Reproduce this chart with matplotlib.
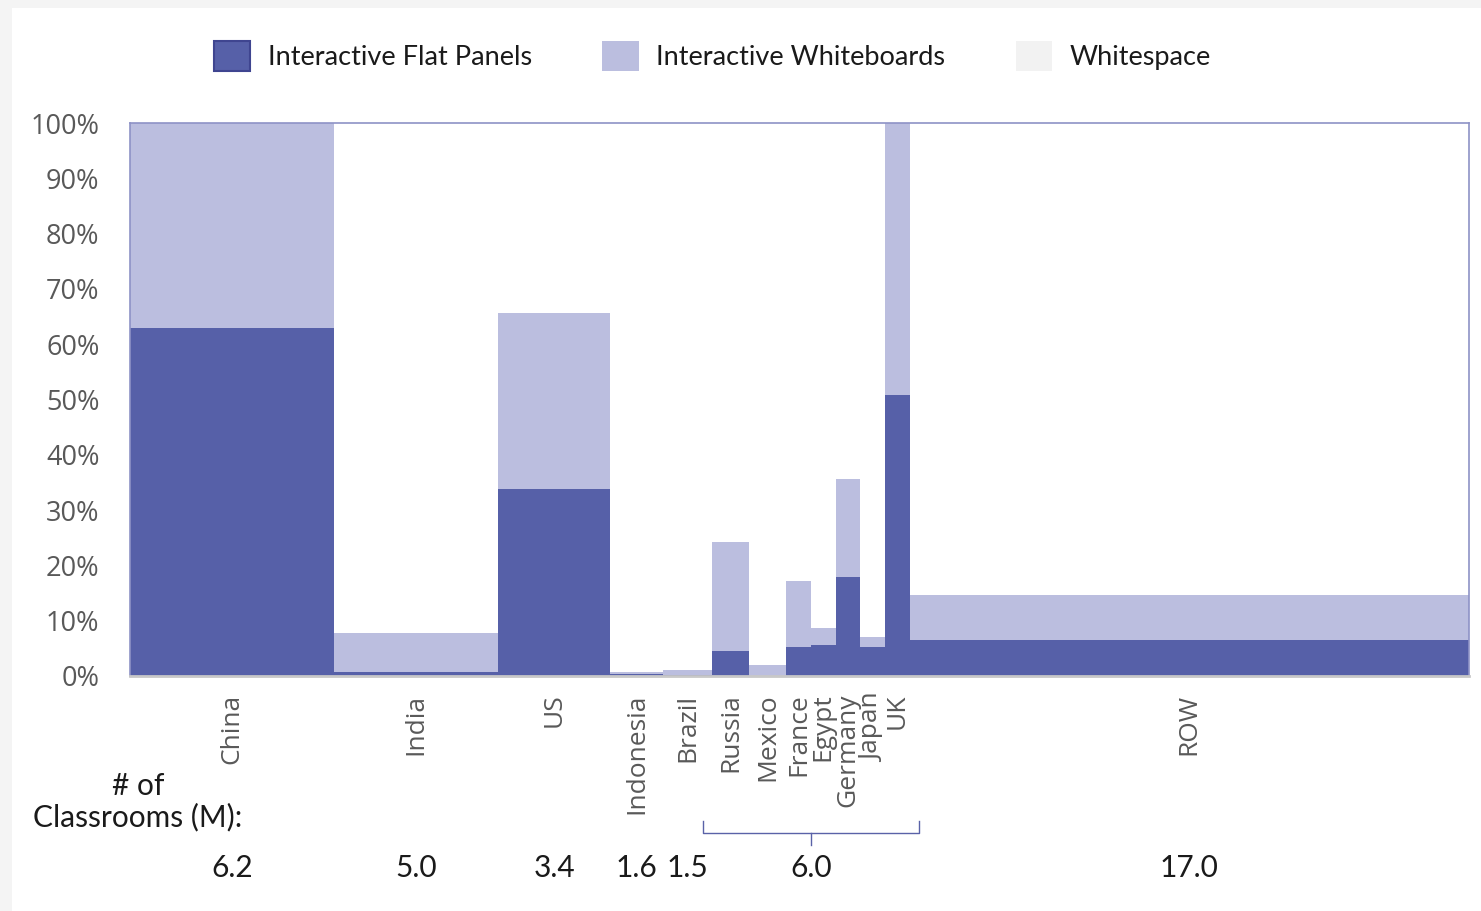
import matplotlib.pyplot as plt
import numpy as np
from matplotlib.patches import Patch, Rectangle
from matplotlib.transforms import blended_transform_factory

# classroom counts (M) per market -> bar widths
countries = ['China', 'India', 'US', 'Indonesia', 'Brazil', 'Russia', 'Mexico',
             'France', 'Egypt', 'Germany', 'Japan', 'UK', 'ROW']
classrooms = [6.2, 5.0, 3.4, 1.6, 1.5, 1.1, 1.15, 0.75, 0.75, 0.75, 0.75, 0.75, 17.0]

# penetration (% of classrooms)
flat_panels = [62.9, 0.8, 33.9, 0.3, 0.1, 4.6, 0.0, 5.2, 5.6, 17.9, 5.2, 50.9, 6.6]
whiteboards = [37.1, 6.9, 31.7, 0.5, 1.0, 19.7, 2.0, 11.9, 3.1, 17.7, 1.9, 49.1, 8.0]

# labels printed under the axis
count_labels = ['6.2', '5.0', '3.4', '1.6', '1.5', '6.0', '17.0']
count_groups = [[0], [1], [2], [3], [4], [5, 6, 7, 8, 9, 10, 11], [12]]

c_ifp = '#5660a8'
c_iwb = '#bbbedf'
c_ws = '#f2f2f2'

fig = plt.figure(figsize=(14.81, 9.11), dpi=100, facecolor='#f4f4f4')
fig.patches.append(Rectangle((12 / 1481, 0), 1, 1 - 8 / 911, transform=fig.transFigure,
                             facecolor='white', edgecolor='none', zorder=-1))

ax = fig.add_axes([130 / 1481, 1 - 676 / 911, 1339 / 1481, 553 / 911])

widths = np.array(classrooms)
lefts = np.concatenate([[0], np.cumsum(widths)[:-1]])
centers = lefts + widths / 2

ax.bar(lefts, flat_panels, widths, align='edge', color=c_ifp, edgecolor='none')
ax.bar(lefts, whiteboards, widths, bottom=flat_panels, align='edge',
       color=c_iwb, edgecolor='none')

ax.set_xlim(0, widths.sum())
ax.set_ylim(0, 100)
ax.set_yticks(np.arange(0, 101, 10))
ax.set_yticklabels([f'{v}%' for v in range(0, 101, 10)])
ax.tick_params(axis='y', length=0, pad=22, labelsize=19.5, labelcolor='#595959')
ax.set_xticks([])
for lbl in ax.get_yticklabels():
    lbl.set_fontfamily('Open Sans')

for side in ['top', 'left', 'right']:
    ax.spines[side].set_color('#8e92c6')
    ax.spines[side].set_linewidth(1.2)
ax.spines['bottom'].set_color('#c8c8c8')
ax.spines['bottom'].set_linewidth(2)

trans = blended_transform_factory(ax.transData, ax.transAxes)

# country names
for name, xc in zip(countries, centers):
    ax.text(xc, -0.032, name, transform=trans, rotation=90, ha='center', va='top',
            fontsize=19, color='#595959', family='Open Sans', linespacing=0.8)

# classroom counts
for lbl, grp in zip(count_labels, count_groups):
    x0 = lefts[grp[0]]
    x1 = lefts[grp[-1]] + widths[grp[-1]]
    ax.text((x0 + x1) / 2, -0.347, lbl, transform=trans, ha='center', va='center',
            fontsize=21.5, color='#1a1a1a', family='Lato')

# bracket over the smaller markets
g0 = lefts[5] - 0.27
g1 = lefts[11] + widths[11] + 0.27
gm = (g0 + g1) / 2
ax.plot([g0, g0, g1, g1], [-0.262, -0.284, -0.284, -0.262], transform=trans,
        color='#5a62a8', lw=1, clip_on=False)
ax.plot([gm, gm], [-0.284, -0.306], transform=trans, color='#5a62a8', lw=1,
        clip_on=False)

fig.text(138 / 1481, 1 - 802 / 911, '# of\nClassrooms (M):', ha='center', va='center',
         fontsize=21.5, family='Lato', color='#1a1a1a', linespacing=1.1)

handles = [Patch(facecolor=c_ifp, edgecolor='#3f4590', lw=1.5, label='Interactive Flat Panels'),
           Patch(facecolor=c_iwb, edgecolor='none', label='Interactive Whiteboards'),
           Patch(facecolor=c_ws, edgecolor='none', label='Whitespace')]
leg = fig.legend(handles=handles, loc='center', bbox_to_anchor=(0.481, 1 - 56 / 911),
                 ncol=3, frameon=False, handlelength=1.35, handleheight=1.35,
                 handletextpad=0.65, columnspacing=2.6,
                 prop={'family': 'Lato', 'size': 19.5})
for t in leg.get_texts():
    t.set_color('#1a1a1a')

fig.savefig('out.png', dpi=100, facecolor=fig.get_facecolor())
